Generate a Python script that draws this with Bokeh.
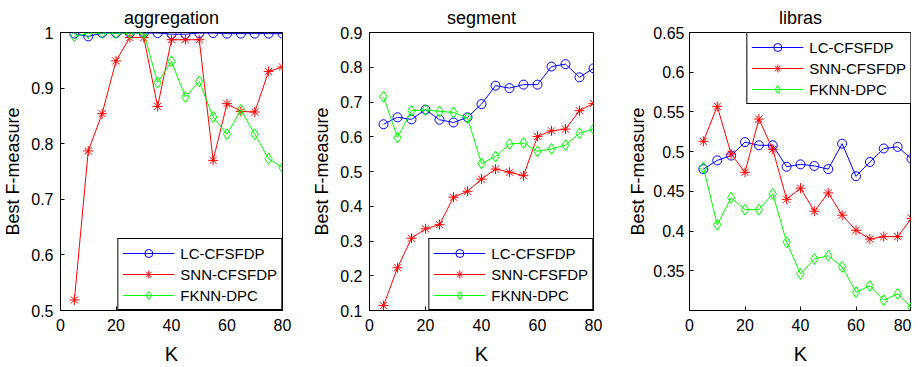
from bokeh.plotting import figure
from bokeh.layouts import row
from bokeh.models import Legend, LegendItem, FixedTicker, Range1d
from bokeh.embed import file_html
from bokeh.resources import INLINE

# ---------------- data ----------------
K = [5, 10, 15, 20, 25, 30, 35, 40, 45, 50, 55, 60, 65, 70, 75, 80]
series_names = ["LC-CFSFDP", "SNN-CFSFDP", "FKNN-DPC"]

agg_lc = [0.998, 0.993, 0.999, 0.999, 0.999, 0.999, 0.999, 0.997, 0.997, 0.999, 0.999, 0.998, 0.998, 0.998, 0.998, 0.998]
agg_snn = [0.519, 0.787, 0.854, 0.949, 0.991, 0.991, 0.867, 0.987, 0.987, 0.987, 0.770, 0.872, 0.858, 0.857, 0.930, 0.938]
agg_fknn = [0.993, 0.999, 0.999, 0.999, 0.999, 0.999, 0.910, 0.948, 0.884, 0.912, 0.848, 0.817, 0.861, 0.817, 0.773, 0.757]

seg_lc = [0.636, 0.656, 0.650, 0.678, 0.649, 0.641, 0.656, 0.694, 0.747, 0.740, 0.750, 0.750, 0.802, 0.809, 0.771, 0.797]
seg_snn = [0.114, 0.223, 0.308, 0.335, 0.347, 0.426, 0.443, 0.478, 0.507, 0.498, 0.488, 0.601, 0.617, 0.622, 0.675, 0.696]
seg_fknn = [0.715, 0.598, 0.675, 0.677, 0.673, 0.670, 0.654, 0.523, 0.543, 0.579, 0.582, 0.558, 0.565, 0.576, 0.610, 0.622]

lib_lc = [0.478, 0.489, 0.495, 0.512, 0.508, 0.508, 0.481, 0.484, 0.482, 0.478, 0.510, 0.469, 0.487, 0.504, 0.506, 0.491]
lib_snn = [0.513, 0.557, 0.497, 0.474, 0.541, 0.503, 0.440, 0.454, 0.425, 0.448, 0.420, 0.401, 0.390, 0.393, 0.393, 0.416]
lib_fknn = [0.480, 0.408, 0.442, 0.427, 0.427, 0.447, 0.386, 0.346, 0.365, 0.369, 0.355, 0.323, 0.331, 0.313, 0.321, 0.304]

titles = ["aggregation", "segment", "libras"]
x_ticks = [0, 20, 40, 60, 80]
agg_y_ticks = [0.5, 0.6, 0.7, 0.8, 0.9, 1.0]
seg_y_ticks = [0.1, 0.2, 0.3, 0.4, 0.5, 0.6, 0.7, 0.8, 0.9]
lib_y_ticks = [0.35, 0.4, 0.45, 0.5, 0.55, 0.6, 0.65]
agg_y_range = (0.5, 1.0)
seg_y_range = (0.1, 0.9)
lib_y_range = (0.3, 0.65)

FONT = "Liberation Sans"
COLORS = ["#0000ff", "#ff0000", "#00ff00"]
MARKERS = ["circle", "asterisk", "diamond"]
MSIZES = [9, 10, 11]


def make_panel(title, ys, yticks, yrange, fw, left, right, legend_loc, tick_so, label_so):
    p = figure(frame_width=fw, frame_height=278, output_backend="svg", toolbar_location=None,
               x_range=Range1d(0, 80), y_range=Range1d(*yrange),
               min_border_left=left, min_border_right=right,
               min_border_top=29, min_border_bottom=44)
    p.title.text = title
    p.title.align = "center"
    p.title.text_font = FONT
    p.title.text_font_size = "18px"
    p.title.text_font_style = "normal"
    p.title.text_color = "#000000"
    p.grid.visible = False
    p.outline_line_color = "#000000"
    p.outline_line_alpha = 1.0
    p.background_fill_color = "#ffffff"
    p.border_fill_color = "#ffffff"

    p.xaxis.ticker = FixedTicker(ticks=x_ticks)
    p.yaxis.ticker = FixedTicker(ticks=yticks)
    p.yaxis.major_label_overrides = {t: "%g" % t for t in yticks}
    for ax in (p.xaxis, p.yaxis):
        ax.major_tick_in = 4
        ax.major_tick_out = 0
        ax.minor_tick_line_color = None
        ax.axis_line_color = "#000000"
        ax.major_tick_line_color = "#000000"
        ax.major_label_text_font = FONT
        ax.major_label_text_font_size = "16px"
        ax.major_label_text_color = "#000000"
        ax.axis_label_text_font = FONT
        ax.axis_label_text_font_style = "normal"
        ax.axis_label_text_color = "#000000"
    p.xaxis.axis_label = "K"
    p.xaxis.axis_label_text_font_size = "20px"
    p.xaxis.major_label_standoff = 8
    p.xaxis.axis_label_standoff = 9
    p.yaxis.axis_label = "Best F-measure"
    p.yaxis.axis_label_text_font_size = "18px"
    p.yaxis.major_label_standoff = tick_so
    p.yaxis.axis_label_standoff = label_so

    items = []
    for name, y, c, m, s in zip(series_names, ys, COLORS, MARKERS, MSIZES):
        r1 = p.line(K, y, line_color=c, line_width=1)
        r2 = p.scatter(K, y, marker=m, size=s, line_color=c, fill_color=None, line_width=1)
        items.append(LegendItem(label=name, renderers=[r1, r2]))
    leg = Legend(items=items, location=legend_loc, margin=0, padding=4, spacing=1,
                 glyph_width=52, glyph_height=20, label_height=20, label_standoff=6,
                 label_text_font=FONT, label_text_font_size="15px", label_text_color="#000000",
                 border_line_color="#000000", border_line_width=1, border_line_alpha=1.0,
                 background_fill_color="#ffffff", background_fill_alpha=1.0)
    p.add_layout(leg)
    return p


p1 = make_panel(titles[0], [agg_lc, agg_snn, agg_fknn], agg_y_ticks, agg_y_range, 222, 53, 27, "bottom_right", 7, 5)
p2 = make_panel(titles[1], [seg_lc, seg_snn, seg_fknn], seg_y_ticks, seg_y_range, 224, 59, 32, "bottom_right", 7, 5)
p3 = make_panel(titles[2], [lib_lc, lib_snn, lib_fknn], lib_y_ticks, lib_y_range, 222, 61, 0, "top_right", 5, 2)

layout = row(p1, p2, p3, spacing=0)
open("out.html", "w").write(file_html(layout, INLINE))
